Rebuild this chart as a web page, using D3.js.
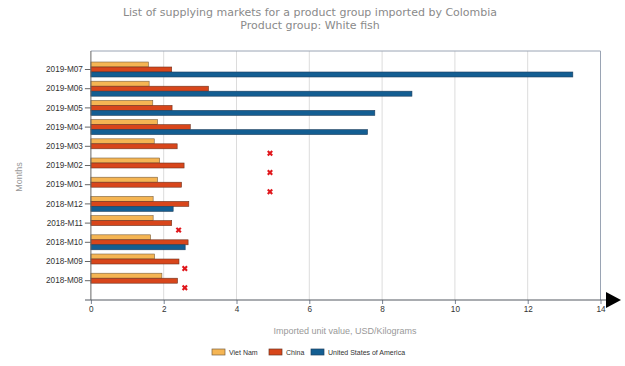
<!DOCTYPE html>
<html>
<head>
<meta charset="utf-8">
<script src="https://cdn.jsdelivr.net/npm/d3@7"></script>
<style>
  html, body { margin: 0; padding: 0; background: #fff; }
  svg { display: block; }
</style>
</head>
<body>
<svg id="chart" width="625" height="366"></svg>
<script>
const categories = ["2019-M07","2019-M06","2019-M05","2019-M04","2019-M03","2019-M02","2019-M01","2018-M12","2018-M11","2018-M10","2018-M09","2018-M08"];
const seriesNames = ["Viet Nam", "China", "United States of America"];
const vietNam = [1.58, 1.60, 1.70, 1.83, 1.74, 1.89, 1.83, 1.71, 1.71, 1.64, 1.75, 1.95];
const china   = [2.22, 3.23, 2.23, 2.73, 2.37, 2.56, 2.49, 2.69, 2.22, 2.67, 2.42, 2.38];
const usa     = [13.24, 8.82, 7.80, 7.60, null, null, null, 2.26, null, 2.59, null, null];
const usaMarkers = [null, null, null, null, 4.92, 4.92, 4.92, null, 2.41, null, 2.58, 2.58];
const xTicks = [0, 2, 4, 6, 8, 10, 12, 14];
const titleLines = ["List of supplying markets for a product group imported by Colombia", "Product group: White fish"];
const xTitle = "Imported unit value, USD/Kilograms";
const yTitle = "Months";

(function () {
const colors = ["#F5B553", "#D8461B", "#135E92"];
const strokes = ["#7a6040", "#6e3420", "#1e3f5e"];
const seriesValues = [vietNam, china, usa];

const svg = d3.select("#chart");
const pLeft = 90.9, pRight = 600.5, pTop = 51, pBottom = 300;

const x = d3.scaleLinear().domain([0, 14]).range([pLeft, pRight]);
const y0 = d3.scaleBand().domain(categories).range([59.9, 290.3]).paddingInner(0.22).paddingOuter(0.11);
const y1 = d3.scaleBand().domain(seriesNames).range([0, y0.bandwidth()]);

// Title
svg.append("g").selectAll("text").data(titleLines).join("text")
  .attr("x", 310).attr("y", (d, i) => 16 + i * 13)
  .attr("text-anchor", "middle")
  .attr("font-family", "DejaVu Sans, Verdana, sans-serif")
  .attr("font-size", 11)
  .attr("fill", "#8a8a8a")
  .text(d => d);

// Gridlines
svg.append("g").selectAll("line").data(xTicks.filter(d => d > 0 && d < 14)).join("line")
  .attr("x1", d => x(d)).attr("x2", d => x(d))
  .attr("y1", pTop).attr("y2", pBottom)
  .attr("stroke", "#dcdcdc").attr("stroke-width", 1);

// Plot border top/right
svg.append("path")
  .attr("d", `M${pLeft},${pTop}H${pRight}V${pBottom}`)
  .attr("fill", "none").attr("stroke", "#9aa4b4").attr("stroke-width", 1);

// Bars
const groups = svg.append("g").selectAll("g").data(categories).join("g")
  .attr("transform", d => `translate(0,${y0(d)})`);
groups.each(function(cat, ci) {
  const g = d3.select(this);
  seriesNames.forEach((s, si) => {
    const v = seriesValues[si][ci];
    if (v == null) return;
    g.append("rect")
      .attr("x", x(0))
      .attr("y", y1(s))
      .attr("width", x(v) - x(0))
      .attr("height", y1.bandwidth())
      .attr("fill", colors[si])
      .attr("stroke", strokes[si])
      .attr("stroke-width", 0.6);
  });
  const m = usaMarkers[ci];
  if (m != null) {
    const cx = x(m), cy = y1(seriesNames[2]) + y1.bandwidth() / 2 + 2;
    g.append("path")
      .attr("d", d3.symbol(d3.symbolCross, 22)())
      .attr("transform", `translate(${cx},${cy}) rotate(45)`)
      .attr("fill", "#e0161b");
  }
});

// Y axis
const yAxis = svg.append("g").attr("transform", `translate(${pLeft},0)`)
  .call(d3.axisLeft(y0).tickSize(6).tickPadding(2).tickSizeOuter(0));
yAxis.select(".domain").remove();
yAxis.append("line").attr("x1", 0).attr("x2", 0).attr("y1", pTop).attr("y2", pBottom)
  .attr("stroke", "#666");
yAxis.selectAll(".tick line").attr("stroke", "#666");
yAxis.selectAll(".tick text").attr("font-family", "Liberation Sans, Arial, sans-serif")
  .attr("font-size", 8.2).attr("fill", "#333");

// X axis
const xAxis = svg.append("g").attr("transform", `translate(0,${pBottom})`)
  .call(d3.axisBottom(x).tickValues(xTicks).tickSize(4).tickPadding(2).tickFormat(d3.format("d")));
xAxis.select(".domain").remove();
xAxis.selectAll(".tick line").attr("stroke", "#7a8494");
xAxis.selectAll(".tick text").attr("font-family", "Liberation Sans, Arial, sans-serif")
  .attr("font-size", 8.2).attr("fill", "#333");
svg.append("line").attr("x1", 85).attr("x2", 612).attr("y1", pBottom).attr("y2", pBottom)
  .attr("stroke", "#555a63").attr("stroke-width", 1.2);
svg.append("path")
  .attr("d", `M606,292L621,300L606,308Z`)
  .attr("fill", "#000");

// Axis titles
svg.append("text")
  .attr("x", 345).attr("y", 334)
  .attr("text-anchor", "middle")
  .attr("font-family", "Liberation Sans, Arial, sans-serif")
  .attr("font-size", 9).attr("fill", "#999")
  .text(xTitle);
svg.append("text")
  .attr("transform", "translate(22,177) rotate(-90)")
  .attr("text-anchor", "middle")
  .attr("font-family", "Liberation Sans, Arial, sans-serif")
  .attr("font-size", 9).attr("fill", "#999")
  .text(yTitle);

// Legend
const legendX = [212, 269, 311];
const legend = svg.append("g").selectAll("g").data(seriesNames).join("g")
  .attr("transform", (d, i) => `translate(${legendX[i]},349)`);
legend.append("rect")
  .attr("width", 13).attr("height", 6)
  .attr("fill", (d, i) => colors[i])
  .attr("stroke", (d, i) => strokes[i]).attr("stroke-width", 0.7);
legend.append("text")
  .attr("x", 17).attr("y", 6)
  .attr("font-family", "Liberation Sans, Arial, sans-serif")
  .attr("font-size", 7).attr("fill", "#333")
  .text(d => d);
})();
</script>
</body>
</html>
